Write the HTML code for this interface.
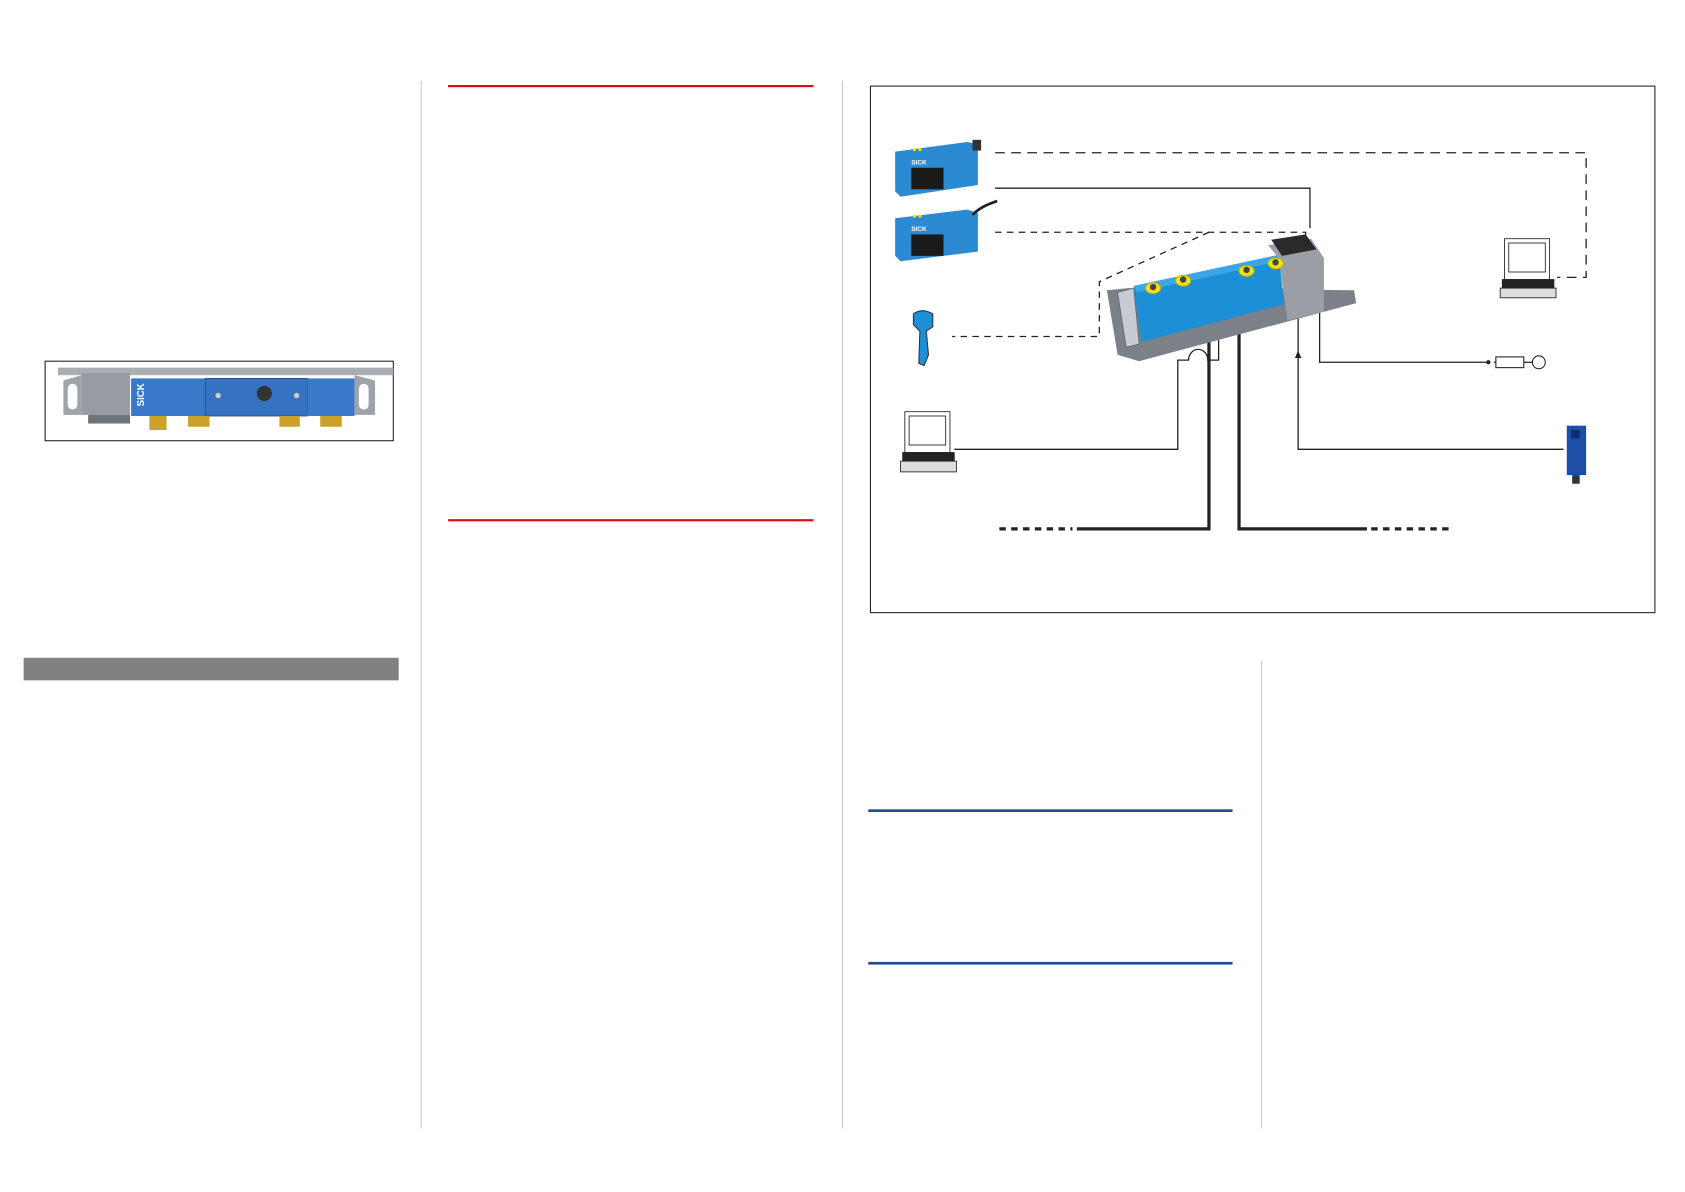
<!DOCTYPE html>
<html><head><meta charset="utf-8"><style>
html,body{margin:0;padding:0;background:#fff;width:1685px;height:1192px;overflow:hidden}
svg{display:block}
</style></head><body>
<svg width="1685" height="1192" viewBox="0 0 1568 1109" xmlns="http://www.w3.org/2000/svg" font-family="Liberation Sans, sans-serif">
<line x1="392" y1="75" x2="392" y2="1050" stroke="#c8c8c8" stroke-width="1"/>
<line x1="784" y1="75" x2="784" y2="1050" stroke="#c8c8c8" stroke-width="1"/>
<line x1="1174" y1="615" x2="1174" y2="1050" stroke="#c8c8c8" stroke-width="1"/>
<rect x="417" y="79" width="340" height="2" fill="#e30613"/>
<rect x="417" y="483" width="340" height="2" fill="#e30613"/>
<rect x="808" y="753" width="339" height="2.5" fill="#1f4e8c"/>
<rect x="808" y="895" width="339" height="2.5" fill="#1f4e8c"/>
<rect x="22" y="612" width="349" height="21" fill="#808080"/>

<!-- left product image -->
<rect x="42" y="336" width="324" height="74" fill="#fff" stroke="#222" stroke-width="1"/>
<rect x="54" y="342" width="312" height="7" fill="#a9adb4"/>
<path d="M59 354 L76 349 L76 386 L59 386 Z" fill="#9ea3aa"/>
<rect x="63" y="357" width="9" height="24" rx="4.5" fill="#fff"/>
<rect x="76" y="347" width="45" height="39" fill="#979ca4"/>
<rect x="82" y="386" width="39" height="8" fill="#6e737a"/>
<rect x="122" y="352" width="69" height="35" fill="#3a78c9"/>
<rect x="191" y="352" width="95" height="35" fill="#3572c2" stroke="#2a4a7a" stroke-width="0.8"/>
<rect x="286" y="352" width="44" height="35" fill="#3a78c9"/>
<path d="M330 349 L349 354 L349 386 L330 386 Z" fill="#9ea3aa"/>
<rect x="334" y="357" width="9" height="24" rx="4.5" fill="#fff"/>
<text x="0" y="0" transform="translate(134,378) rotate(-90)" font-size="9" font-weight="bold" fill="#fff">SICK</text>
<circle cx="246" cy="366" r="7" fill="#333"/>
<circle cx="203" cy="368" r="2.5" fill="#ccc"/><circle cx="276" cy="368" r="2.5" fill="#ccc"/>
<rect x="139" y="387" width="16" height="13" fill="#c9a227"/>
<rect x="175" y="387" width="20" height="10" fill="#c9a227"/>
<rect x="260" y="387" width="19" height="10" fill="#c9a227"/>
<rect x="298" y="387" width="20" height="10" fill="#c9a227"/>

<!-- diagram frame -->
<rect x="810" y="80" width="730" height="490" fill="#fff" stroke="#222" stroke-width="1"/>

<g fill="none" stroke="#222" stroke-width="1.2">
<path d="M926 142 H1476 V258 H1449" stroke-dasharray="9,6"/>
<path d="M926 175 H1219 V212"/>
<path d="M926 216 H1215 V232" stroke-dasharray="6,5"/>
<path d="M1125 216 L1023 262 V313 H886" stroke-dasharray="6,5"/>
<path d="M888 418 H1096 V335 H1106 A9 10 0 0 1 1124 335 H1134 V308 L1114 290"/>
<path d="M1184 256 L1208 290 V418 H1455"/>
<path d="M1200 250 L1228 285 V337 H1385"/>
<path d="M1390 337 H1392 M1418 337 H1426"/>
</g>
<circle cx="1385" cy="337" r="2" fill="#222"/>
<rect x="1392" y="332" width="26" height="10" fill="#fff" stroke="#222" stroke-width="1"/>
<circle cx="1432" cy="337" r="6" fill="#fff" stroke="#222" stroke-width="1"/>
<path d="M1205 333 L1208 326 L1211 333 Z" fill="#222"/>
<g fill="none" stroke="#222" stroke-width="3">
<path d="M1080 275 L1125 318 V492 H1002"/>
<path d="M1102 264 L1153 303 V492 H1272"/>
<path d="M930 492 H998 M1276 492 H1350" stroke-dasharray="6,5"/>
</g>

<path d="M1030 270 L1050 268 L1260 270 L1262 282 L1060 336 L1040 330 Z" fill="#7c8088"/>
<path d="M1040 272 L1055 268 L1060 320 L1048 323 Z" fill="#c8ccd2" stroke="#555" stroke-width="0.6"/>
<path d="M1055 266 L1190 237 L1195 283 L1062 318 Z" fill="#1c8fd6"/>
<path d="M1055 266 L1190 237 L1190 243 L1058 272 Z" fill="#3aa6e8"/>
<path d="M1180 228 L1220 222 L1232 240 L1232 290 L1198 298 L1190 240 Z" fill="#9a9ea5"/>
<path d="M1183 223 L1215 218 L1225 232 L1193 238 Z" fill="#2a2a2a"/>
<g fill="#f2e21a" stroke="#c8b400" stroke-width="1">
<ellipse cx="1073" cy="268" rx="7" ry="5"/>
<ellipse cx="1101" cy="261" rx="7" ry="5"/>
<ellipse cx="1160" cy="252" rx="7" ry="5"/>
<ellipse cx="1187" cy="245" rx="7" ry="5"/>
</g>
<g fill="#444"><circle cx="1073" cy="267" r="3"/><circle cx="1101" cy="260" r="3"/><circle cx="1160" cy="251" r="3"/><circle cx="1187" cy="244" r="3"/></g>

<g>
<path d="M833 141 L900 132 L910 134 L910 172 L838 183 L833 178 Z" fill="#2c8ad2"/>
<rect x="905" y="130" width="8" height="10" fill="#333"/>
<rect x="848" y="156" width="30" height="20" fill="#1a1a1a"/>
<text x="848" y="153" font-size="6" font-weight="bold" fill="#fff">SICK</text>
<circle cx="851" cy="139" r="1.5" fill="#f2e21a"/><circle cx="856" cy="139" r="1.5" fill="#f2e21a"/>
</g>
<g>
<path d="M833 203 L900 195 L910 198 L910 234 L838 243 L833 238 Z" fill="#2c8ad2"/>
<path d="M905 200 Q912 192 928 187" stroke="#222" stroke-width="2.5" fill="none"/>
<rect x="848" y="218" width="30" height="20" fill="#1a1a1a"/>
<text x="848" y="215" font-size="6" font-weight="bold" fill="#fff">SICK</text>
<circle cx="851" cy="201" r="1.5" fill="#f2e21a"/><circle cx="856" cy="201" r="1.5" fill="#f2e21a"/>
</g>
<path d="M850 292 Q858 286 868 292 L868 304 L862 308 L864 330 L860 340 L855 338 L856 308 L850 302 Z" fill="#1e90d8" stroke="#333" stroke-width="1"/>

<g fill="#fff" stroke="#222" stroke-width="0.8">
<rect x="1400" y="222" width="42" height="38"/><rect x="1404" y="226" width="34" height="27"/>
<rect x="1398" y="260" width="48" height="8" fill="#222"/>
<rect x="1396" y="268" width="52" height="9" fill="#ddd"/>
<rect x="842" y="383" width="42" height="38"/><rect x="846" y="387" width="34" height="27"/>
<rect x="840" y="421" width="48" height="8" fill="#222"/>
<rect x="838" y="429" width="52" height="10" fill="#ddd"/>
</g>
<rect x="1458" y="396" width="18" height="46" fill="#1d4fa8"/>
<rect x="1462" y="400" width="8" height="8" fill="#0e2e70"/>
<rect x="1463" y="442" width="7" height="8" fill="#333"/>
</svg>
</body></html>
